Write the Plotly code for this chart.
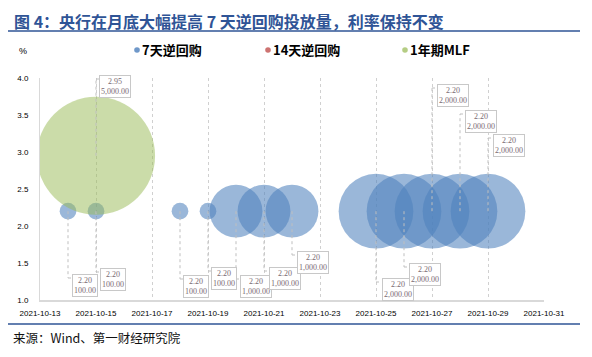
import datetime as _dt
import plotly.graph_objects as go

# ---------------- data ----------------
repo7_dates = ["2021-10-14", "2021-10-15", "2021-10-18", "2021-10-19", "2021-10-20",
               "2021-10-21", "2021-10-22", "2021-10-25", "2021-10-26", "2021-10-27",
               "2021-10-28", "2021-10-29"]
repo7_rates = [2.20, 2.20, 2.20, 2.20, 2.20, 2.20, 2.20, 2.20, 2.20, 2.20, 2.20, 2.20]
repo7_amounts = [100, 100, 100, 100, 1000, 1000, 1000, 2000, 2000, 2000, 2000, 2000]

repo14_dates = []
repo14_rates = []
repo14_amounts = []

mlf_dates = ["2021-10-15"]
mlf_rates = [2.95]
mlf_amounts = [5000]

tick_dates = ["2021-10-13", "2021-10-15", "2021-10-17", "2021-10-19", "2021-10-21",
              "2021-10-23", "2021-10-25", "2021-10-27", "2021-10-29", "2021-10-31"]
y_ticks = [1.0, 1.5, 2.0, 2.5, 3.0, 3.5, 4.0]

series_names = ["7天逆回购", "14天逆回购", "1年期MLF"]
title_text = "图 4：央行在月底大幅提高 7 天逆回购投放量，利率保持不变"
source_text = "来源：Wind、第一财经研究院"

# ---------------- style / layout ----------------
OFF = 8                       # page body margin of the written html
PAGE_W, PAGE_H = 592, 357
W, H = PAGE_W - 2 * OFF, PAGE_H - 2 * OFF
PLOT_L, PLOT_R, PLOT_T, PLOT_B = 40, 544, 78, 300   # plot area in page pixels
L, R, T, B = PLOT_L - OFF, (OFF + W) - PLOT_R, PLOT_T - OFF, (OFF + H) - PLOT_B
PW, PH = PLOT_R - PLOT_L, PLOT_B - PLOT_T
DAY_PX = PW / 18.0
Y_PX = PH / 3.0

def px_x(px):
    return (px - PLOT_L) / PW

def px_y(py):
    return (PLOT_B - py) / PH

colors = ["rgba(79,129,189,0.82)", "rgba(192,80,77,0.80)", "rgba(155,187,89,0.74)"]
SIZEREF = 0.717

# label placement per labelled point: (dx_px right of point, box top in page px)
repo7_label_pos = [(4, 275), (4, 269), (3, 276), (3, 268), (4, 276), (5, 268), (5, 252),
                   (6, 279), (5, 264), (5, 85), (5, 111), (5, 135)]
mlf_label_pos = [(3, 76)]
BOX_H = 21

fig = go.Figure()

def add_series(name, dates, rates, amounts, color):
    fig.add_trace(go.Scatter(
        x=dates, y=rates, mode="markers", name=name, showlegend=False,
        marker=dict(size=amounts, sizemode="area", sizeref=SIZEREF,
                    color=color, line=dict(width=0)),
        hoverinfo="x+y",
    ))

add_series(series_names[0], repo7_dates, repo7_rates, repo7_amounts, colors[0])
add_series(series_names[1], repo14_dates, repo14_rates, repo14_amounts, colors[1])
add_series(series_names[2], mlf_dates, mlf_rates, mlf_amounts, colors[2])

shapes = []
annotations = []

def shift_date(d, days):
    base = _dt.datetime.strptime(d, "%Y-%m-%d")
    return (base + _dt.timedelta(days=days)).strftime("%Y-%m-%d %H:%M:%S")

def add_labels(dates, rates, amounts, positions):
    for d, r, a, (dx, top_px) in zip(dates, rates, amounts, positions):
        center = 1 + (PLOT_B - (top_px + BOX_H / 2)) / Y_PX
        join = 1 + (PLOT_B - (top_px + 3)) / Y_PX
        xend = shift_date(d, dx / DAY_PX)
        line = dict(color="#BFBFBF", width=1, dash="dot")
        shapes.append(dict(type="line", xref="x", yref="y", x0=d, x1=d, y0=r, y1=join, line=line))
        shapes.append(dict(type="line", xref="x", yref="y", x0=d, x1=xend, y0=join, y1=join, line=line))
        annotations.append(dict(
            xref="x", yref="y", x=xend, y=center, xanchor="left", yanchor="middle",
            text=f"{r:.2f}<br>{a:,.2f}", showarrow=False, align="center",
            font=dict(family="Liberation Serif", size=8, color="#7a6a72"),
            bgcolor="white", bordercolor="#C8C8C8", borderwidth=1, borderpad=1,
        ))

add_labels(repo7_dates, repo7_rates, repo7_amounts, repo7_label_pos)
add_labels(mlf_dates, mlf_rates, mlf_amounts, mlf_label_pos)

# title, rules, source
annotations.append(dict(xref="paper", yref="paper", x=px_x(13), y=px_y(OFF),
                        xanchor="left", yanchor="top", showarrow=False, borderpad=0,
                        text=f"<b>{title_text}</b>",
                        font=dict(family="Noto Sans CJK SC", size=16, color="#2F5496")))
shapes.append(dict(type="line", xref="paper", yref="paper", x0=px_x(4), x1=px_x(580),
                   y0=px_y(31), y1=px_y(31), line=dict(color="#2F5496", width=1.5)))
shapes.append(dict(type="line", xref="paper", yref="paper", x0=px_x(4), x1=px_x(580),
                   y0=px_y(324), y1=px_y(324), line=dict(color="#2F5496", width=1.5)))
annotations.append(dict(xref="paper", yref="paper", x=px_x(12), y=px_y(OFF + H - 1),
                        xanchor="left", yanchor="bottom", showarrow=False, borderpad=0,
                        text=source_text,
                        font=dict(family="Noto Sans CJK SC", size=12.5, color="#111111")))

# unit label
annotations.append(dict(xref="paper", yref="paper", x=px_x(23), y=px_y(51),
                        xanchor="center", yanchor="middle", showarrow=False,
                        text="%", font=dict(family="Liberation Sans", size=9, color="#000000")))

# legend (drawn manually to match compact symbol/text spacing)
legend_dot_x = [137, 268, 405]
for name, col, cx in zip(series_names, colors, legend_dot_x):
    rr = 2.8
    shapes.append(dict(type="circle", xref="paper", yref="paper",
                       x0=px_x(cx - rr), x1=px_x(cx + rr), y0=px_y(50 + rr), y1=px_y(50 - rr),
                       fillcolor=col, line=dict(width=0)))
    annotations.append(dict(xref="paper", yref="paper", x=px_x(cx + 3), y=px_y(50),
                            xanchor="left", yanchor="middle", showarrow=False,
                            text=f"<b>{name}</b>",
                            font=dict(family="Noto Sans CJK SC", size=13, color="#000000")))

fig.update_layout(
    width=W, height=H, autosize=False,
    margin=dict(l=L, r=R, t=T, b=B),
    paper_bgcolor="white", plot_bgcolor="white",
    showlegend=False,
    shapes=shapes, annotations=annotations,
    xaxis=dict(
        type="date", range=[tick_dates[0], tick_dates[-1]],
        tickvals=tick_dates, ticktext=tick_dates,
        showgrid=True, gridcolor="#D0D0D0", gridwidth=1, griddash="dot",
        showline=True, linecolor="#D9D9D9", linewidth=2,
        ticks="outside", ticklen=4, tickcolor="rgba(0,0,0,0)",
        tickfont=dict(family="Liberation Sans", size=8, color="#000000"),
        zeroline=False, fixedrange=True, automargin=False,
    ),
    yaxis=dict(
        range=[1.0, 4.0], tickvals=y_ticks, ticktext=[f"{v:.1f}" for v in y_ticks],
        showgrid=False, showline=True, linecolor="#D9D9D9", linewidth=1,
        ticks="outside", ticklen=9, tickcolor="rgba(0,0,0,0)",
        tickfont=dict(family="Liberation Sans", size=8, color="#000000"),
        zeroline=False, fixedrange=True, automargin=False,
    ),
)

fig.write_html("out.html")
